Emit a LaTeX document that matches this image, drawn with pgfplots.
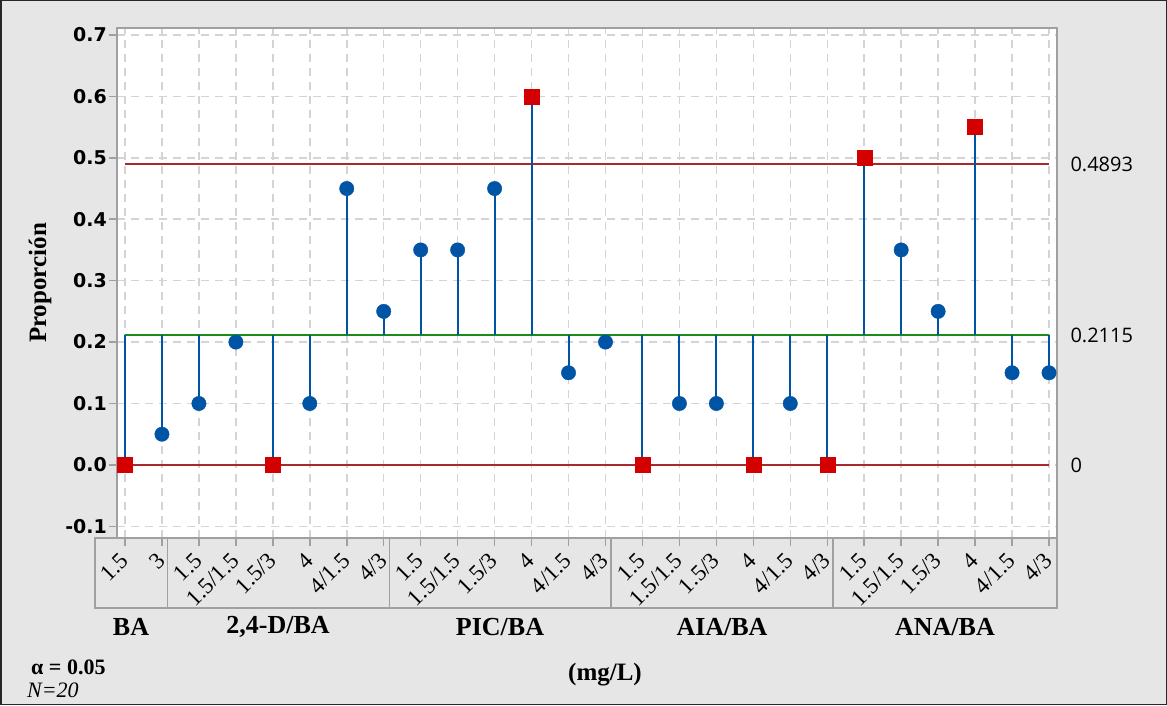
\documentclass[border=0pt]{standalone}
\usepackage{fontspec}
\setmainfont{Liberation Serif}
\newfontfamily\dvs{DejaVu Sans}
\newfontfamily\osans{Open Sans}
\usepackage{pgfplots}
\pgfplotsset{compat=1.18}
\definecolor{bg}{HTML}{E6E6E6}
\definecolor{ptblue}{HTML}{0054A6}
\definecolor{ptred}{HTML}{D40000}
\definecolor{limred}{HTML}{A8282C}
\definecolor{cgreen}{HTML}{1A8C1A}
\definecolor{gridc}{HTML}{D4D4D4}
\definecolor{axc}{HTML}{A0A0A0}
\newcommand\tl[1]{\textrm{#1}}
\begin{document}
\begin{tikzpicture}[x=1pt,y=1pt]
\path[use as bounding box] (0,0) rectangle (1167,705);
\fill[bg] (0,0) rectangle (1167,705);
\draw[black!85, line width=1.5pt] (0.75,0.75) rectangle (1166.25,704.25);
% category label box
\draw[axc, line width=1.5pt] (95,97) rectangle (1057,167);
\foreach \sx in {167.5,389.3,611,832.8} {\draw[axc, line width=1.5pt] (\sx,97) -- (\sx,167);}
\begin{axis}[
  at={(117pt,167pt)}, anchor=south west,
  scale only axis, width=940pt, height=510pt,
  xmin=-0.216, xmax=25.216, ymin=-0.119, ymax=0.7114,
  clip=false,
  axis background/.style={fill=white},
  axis line style={axc, line width=1.5pt},
  tick pos=left, tick align=outside,
  major tick length=8pt,
  every tick/.style={axc, line width=1.5pt},
  xtick={0,...,25},
  xticklabels={\tl{1.5},\tl{3},
    \tl{1.5},\tl{1.5/1.5},\tl{1.5/3},\tl{4},\tl{4/1.5},\tl{4/3},
    \tl{1.5},\tl{1.5/1.5},\tl{1.5/3},\tl{4},\tl{4/1.5},\tl{4/3},
    \tl{1.5},\tl{1.5/1.5},\tl{1.5/3},\tl{4},\tl{4/1.5},\tl{4/3},
    \tl{1.5},\tl{1.5/1.5},\tl{1.5/3},\tl{4},\tl{4/1.5},\tl{4/3}},
  xticklabel style={font=\rmfamily\fontsize{23}{23}\selectfont, xshift=0pt, yshift=-10pt, rotate=45, anchor=east, inner sep=1pt},
  ytick={-0.1,0,0.1,0.2,0.3,0.4,0.5,0.6,0.7},
  yticklabel style={font=\dvs\bfseries\fontsize{19}{19}\selectfont, /pgf/number format/fixed, /pgf/number format/fixed zerofill, /pgf/number format/precision=1, /pgf/number format/assume math mode=true, inner sep=2pt},
  grid=major,
  major grid style={gridc, line width=1.5pt, dash pattern=on 8pt off 6pt},
]
% center line and limits
\addplot[cgreen, line width=2pt] coordinates {(0,0.2115) (25,0.2115)};
\addplot[limred, line width=2pt] coordinates {(0,0.4893) (25,0.4893)};
\addplot[limred, line width=2pt] coordinates {(0,0) (25,0)};
% stems
\addplot[ptblue, line width=2pt, unbounded coords=jump] coordinates {
(0,0.2115) (0,0) (0,nan)
(1,0.2115) (1,0.05) (1,nan)
(2,0.2115) (2,0.10) (2,nan)
(3,0.2115) (3,0.20) (3,nan)
(4,0.2115) (4,0) (4,nan)
(5,0.2115) (5,0.10) (5,nan)
(6,0.2115) (6,0.45) (6,nan)
(7,0.2115) (7,0.25) (7,nan)
(8,0.2115) (8,0.35) (8,nan)
(9,0.2115) (9,0.35) (9,nan)
(10,0.2115) (10,0.45) (10,nan)
(11,0.2115) (11,0.60) (11,nan)
(12,0.2115) (12,0.15) (12,nan)
(13,0.2115) (13,0.20) (13,nan)
(14,0.2115) (14,0) (14,nan)
(15,0.2115) (15,0.10) (15,nan)
(16,0.2115) (16,0.10) (16,nan)
(17,0.2115) (17,0) (17,nan)
(18,0.2115) (18,0.10) (18,nan)
(19,0.2115) (19,0) (19,nan)
(20,0.2115) (20,0.50) (20,nan)
(21,0.2115) (21,0.35) (21,nan)
(22,0.2115) (22,0.25) (22,nan)
(23,0.2115) (23,0.55) (23,nan)
(24,0.2115) (24,0.15) (24,nan)
(25,0.2115) (25,0.15)
};
% in-limit points
\addplot[only marks, mark=*, mark size=7.2pt, mark options={fill=ptblue, draw=ptblue}] coordinates {
(1,0.05) (2,0.10) (3,0.20) (5,0.10) (6,0.45) (7,0.25) (8,0.35) (9,0.35) (10,0.45)
(12,0.15) (13,0.20) (15,0.10) (16,0.10) (18,0.10) (21,0.35) (22,0.25) (24,0.15) (25,0.15)
};
% out-of-limit points
\addplot[only marks, mark=square*, mark size=7.5pt, mark options={fill=ptred, draw=ptred}] coordinates {
(0,0) (4,0) (11,0.60) (14,0) (17,0) (19,0) (20,0.50) (23,0.55)
};
\node[anchor=west, font=\osans\fontsize{20}{20}\selectfont, xshift=10pt] at (axis cs:25.216,0.4893) {0.4893};
\node[anchor=west, font=\osans\fontsize{20}{20}\selectfont, xshift=10pt] at (axis cs:25.216,0.2115) {0.2115};
\node[anchor=west, font=\osans\fontsize{20}{20}\selectfont, xshift=10pt] at (axis cs:25.216,0) {0};
\end{axis}
% group labels
\foreach \gx/\gl in {131/{BA}, 278/{2,4-D/BA}, 500/{PIC/BA}, 722/{AIA/BA}, 945/{ANA/BA}} {
  \node[font=\bfseries\fontsize{26}{26}\selectfont] at (\gx,78) {\gl};
}
\node[font=\bfseries\fontsize{25}{25}\selectfont] at (605,30) {(mg/L)};
\node[font=\bfseries\fontsize{25}{25}\selectfont, rotate=90] at (40,422) {Proporción};
\node[anchor=west, font=\bfseries\fontsize{22}{22}\selectfont, inner sep=0pt] at (31,38) {α = 0.05};
\node[anchor=west, font=\itshape\fontsize{22}{22}\selectfont, inner sep=0pt] at (27,15) {N=20};
\end{tikzpicture}
\end{document}
